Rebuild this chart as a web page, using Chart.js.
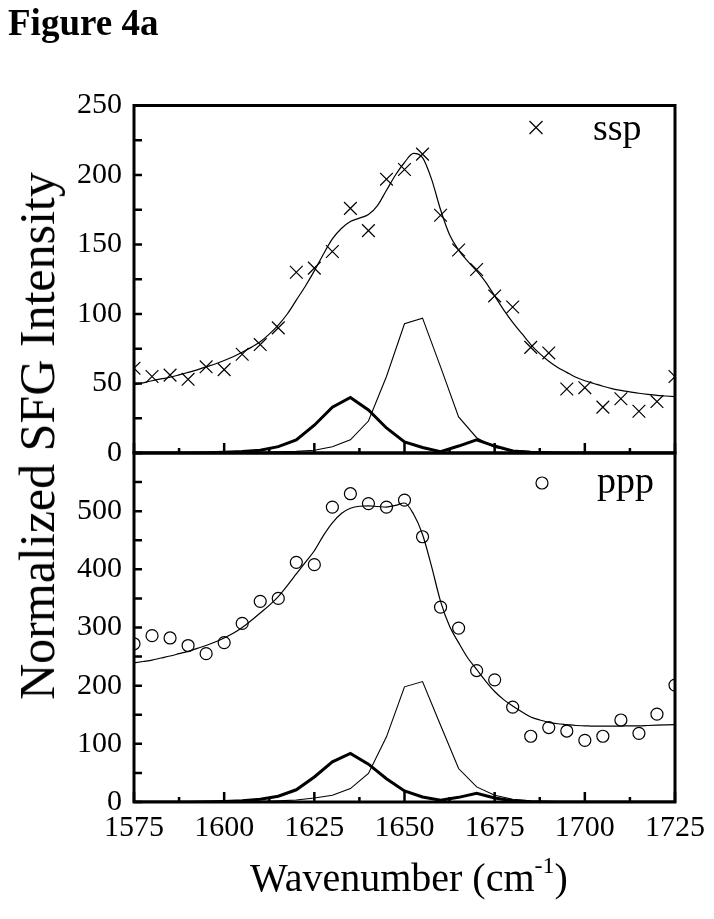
<!DOCTYPE html>
<html><head><meta charset="utf-8">
<script src="https://cdn.jsdelivr.net/npm/chart.js@4.4.0/dist/chart.umd.min.js"></script>
<style>
html,body{margin:0;padding:0;background:#fff;}
#wrap{position:relative;width:714px;height:919px;overflow:hidden;background:#fff;font-family:"Liberation Serif","Times New Roman",serif;color:#000;}
canvas{position:absolute;left:0;top:0;}
#fig{position:absolute;left:8px;top:4px;font-weight:bold;font-size:37px;line-height:1;white-space:nowrap;}
#ytitle{position:absolute;left:37px;top:436px;transform:translate(-50%,-50%) rotate(-90deg);font-size:50px;line-height:1;white-space:nowrap;}
#xtitle{position:absolute;left:409px;top:878px;transform:translate(-50%,-50%);font-size:40px;line-height:1;white-space:nowrap;}
#xtitle sup{font-size:24px;vertical-align:0;position:relative;top:-18px;}
</style></head>
<body>
<div id="wrap">
<canvas id="cTop" width="714" height="919"></canvas>
<canvas id="cBot" width="714" height="919"></canvas>
<div id="fig">Figure 4a</div>
<div id="ytitle">Normalized SFG Intensity</div>
<div id="xtitle">Wavenumber (cm<sup>-1</sup>)</div>
</div>
<script>
// ---------- data ----------
const wavenumbers = [1575,1580,1585,1590,1595,1600,1605,1610,1615,1620,1625,1630,1635,1640,1645,1650,1655,1660,1665,1670,1675,1680,1685,1690,1695,1700,1705,1710,1715,1720,1725];
const sspData = [61,55,56,53,62,60,71,78,90,130,133,145,176,160,197,204,215,171,146,132,113,105,76,72,46,47,33,39,30,37,55];
const pppData = [272,286,282,269,255,274,307,345,350,412,408,507,530,513,507,519,456,335,299,226,210,163,113,128,122,106,113,141,118,151,201];

const fitWavenumbers = [1575,1577.5,1580,1582.5,1585,1587.5,1590,1592.5,1595,1597.5,1600,1602.5,1605,1607.5,1610,1612.5,1615,1617.5,1620,1622.5,1625,1627.5,1630,1632.5,1635,1637.5,1640,1642.5,1645,1647.5,1650,1652.5,1655,1657.5,1660,1662.5,1665,1667.5,1670,1672.5,1675,1677.5,1680,1682.5,1685,1687.5,1690,1692.5,1695,1697.5,1700,1702.5,1705,1707.5,1710,1712.5,1715,1717.5,1720,1722.5,1725];
const sspFit = [49,50.5,52,53.3,54.5,56.2,58,59.8,62,64,66.5,69.3,72.5,76,80,85.5,92,100,110,120,131,143,154,161.5,166.5,169,171.5,178,189,200,209,215.5,212.5,197,175,157,146,138,131,123,113,103,94,86,78,71.5,66,61.5,58,54.5,52,50,48,46.3,45,44,43,42.2,41.5,41,40.5];
const pppFit = [239,241.5,244,247.5,251,255,259,264,269,275,282,290,300,312,325,338,353,372,392,412,432,458,480,496,505,508.5,509,508,507,510,514,495,460,405,345,302,274,248,228,208,190,176,165,155,146,141,137,134.5,133,131.5,131,130.5,130.5,130.5,130.5,131,131,131.5,132,132.5,133];

// component peaks (bold = band near 1635 + 1670, thin = band near 1653)
const sspBold = [0,0,0,0,0.2,0.5,1,2,4.6,9.4,20,33,40,31,18,8,4,1,5,9.5,5,1.5,0.5,0.2,0,0,0,0,0,0,0];
const sspThin = [0,0,0,0,0,0.2,0.3,0.5,0.8,1.2,2,4.5,9.5,23,55,93,97,62,26,11,4,2,1,0.5,0.3,0.2,0.1,0,0,0,0];
const pppBold = [0,0,0,0,0.5,1,2,4.6,10,21,43,69,83.5,65,40,19,8.6,3,8,15,7,2,0.5,0,0,0,0,0,0,0,0];
const pppThin = [0,0,0,0,0,0.5,0.8,1,2,3.5,7,11.5,23,49,112,198,207,132,57.5,26,11.5,4.6,2,1,0.5,0,0,0,0,0,0];

const xMajorTicks = [1575,1600,1625,1650,1675,1700,1725];
const xMinorTicks = [1587.5,1612.5,1637.5,1662.5,1687.5,1712.5];
const topYTicks = [0,25,50,75,100,125,150,175,200,225,250];
const botYTicks = [0,50,100,150,200,250,300,350,400,450,500,550,600];

const FONT = '"Liberation Serif","Times New Roman",serif';

function pts(xs, ys){ return xs.map((x,i)=>({x:x, y:ys[i]})); }

const framePlugin = {
  id:'frame',
  afterDraw(chart){
    const ctx = chart.ctx, a = chart.chartArea, x = chart.scales.x, y = chart.scales.y;
    const o = chart.options.plugins.frame;
    ctx.save();
    ctx.strokeStyle = '#000';
    ctx.lineWidth = 2.5;
    ctx.beginPath();
    xMajorTicks.forEach(v=>{ const p=x.getPixelForValue(v); ctx.moveTo(p,a.bottom); ctx.lineTo(p,a.bottom-10); });
    xMinorTicks.forEach(v=>{ const p=x.getPixelForValue(v); ctx.moveTo(p,a.bottom); ctx.lineTo(p,a.bottom-5); });
    o.yTicks.forEach(v=>{ const p=y.getPixelForValue(v); ctx.moveTo(a.left,p); ctx.lineTo(a.left+8,p); });
    ctx.stroke();
    ctx.lineWidth = 3;
    ctx.strokeRect(a.left, a.top, a.right-a.left, a.bottom-a.top);
    // legend
    const mx = a.right - o.markerDx, my = a.top + o.markerDy;
    ctx.lineWidth = 1.2;
    ctx.beginPath();
    if (o.marker === 'cross') {
      ctx.moveTo(mx-6.5,my-6.5); ctx.lineTo(mx+6.5,my+6.5);
      ctx.moveTo(mx-6.5,my+6.5); ctx.lineTo(mx+6.5,my-6.5);
    } else {
      ctx.arc(mx,my,6,0,Math.PI*2);
    }
    ctx.stroke();
    ctx.fillStyle = '#000';
    ctx.font = '38px ' + FONT;
    ctx.textBaseline = 'alphabetic';
    ctx.textAlign = 'left';
    ctx.fillText(o.label, a.right - o.textDx, a.top + o.textDy);
    ctx.restore();
  }
};

function makeChart(id, pointData, pointStyle, pointRadius, fitData, boldData, thinData, yMax, yStep, yTicks, pad, showX, legend){
  return new Chart(document.getElementById(id), {
    type:'scatter',
    data:{datasets:[
      {data:pts(fitWavenumbers, fitData), showLine:true, pointRadius:0, borderColor:'#000', borderWidth:1.2, cubicInterpolationMode:'monotone', fill:false},
      {data:pts(wavenumbers, boldData), showLine:true, pointRadius:0, borderColor:'#000', borderWidth:3, tension:0, fill:false},
      {data:pts(wavenumbers, thinData), showLine:true, pointRadius:0, borderColor:'#000', borderWidth:1.1, tension:0, fill:false},
      {data:pts(wavenumbers, pointData), showLine:false, pointStyle:pointStyle, pointRadius:pointRadius, pointBorderWidth:1.2, pointBorderColor:'#000', pointBackgroundColor:'rgba(0,0,0,0)', borderColor:'#000', backgroundColor:'rgba(0,0,0,0)'}
    ]},
    options:{
      responsive:false, animation:false, devicePixelRatio:1, events:[],
      layout:{padding:pad},
      scales:{
        x:{type:'linear', min:1575, max:1725, display:showX,
           ticks:{stepSize:25, font:{family:FONT, size:30}, color:'#000', padding:8, maxRotation:0, autoSkip:false, callback:v=>String(v)},
           grid:{display:false, drawTicks:false}, border:{display:false},
           afterFit(s){ s.height = showX ? 50 : 0; }},
        y:{type:'linear', min:0, max:yMax,
           ticks:{stepSize:yStep, font:{family:FONT, size:30}, color:'#000', padding:12, callback:v=>(v===600?'':String(v))},
           grid:{display:false, drawTicks:false}, border:{display:false},
           afterFit(s){ s.width = 134; }}
      },
      plugins:{legend:{display:false}, tooltip:{enabled:false}, frame:Object.assign({yTicks:yTicks}, legend)}
    },
    plugins:[framePlugin]
  });
}

makeChart('cTop', sspData, 'crossRot', 9, sspFit, sspBold, sspThin, 250, 50, topYTicks,
  {left:0, right:39, top:105.5, bottom:466}, false,
  {marker:'cross', markerDx:139, markerDy:22, label:'ssp', textDx:82, textDy:34});
makeChart('cBot', pppData, 'circle', 6, pppFit, pppBold, pppThin, 600, 100, botYTicks,
  {left:0, right:39, top:453, bottom:67}, true,
  {marker:'circle', markerDx:133, markerDy:30, label:'ppp', textDx:78, textDy:40});
</script>
</body></html>
